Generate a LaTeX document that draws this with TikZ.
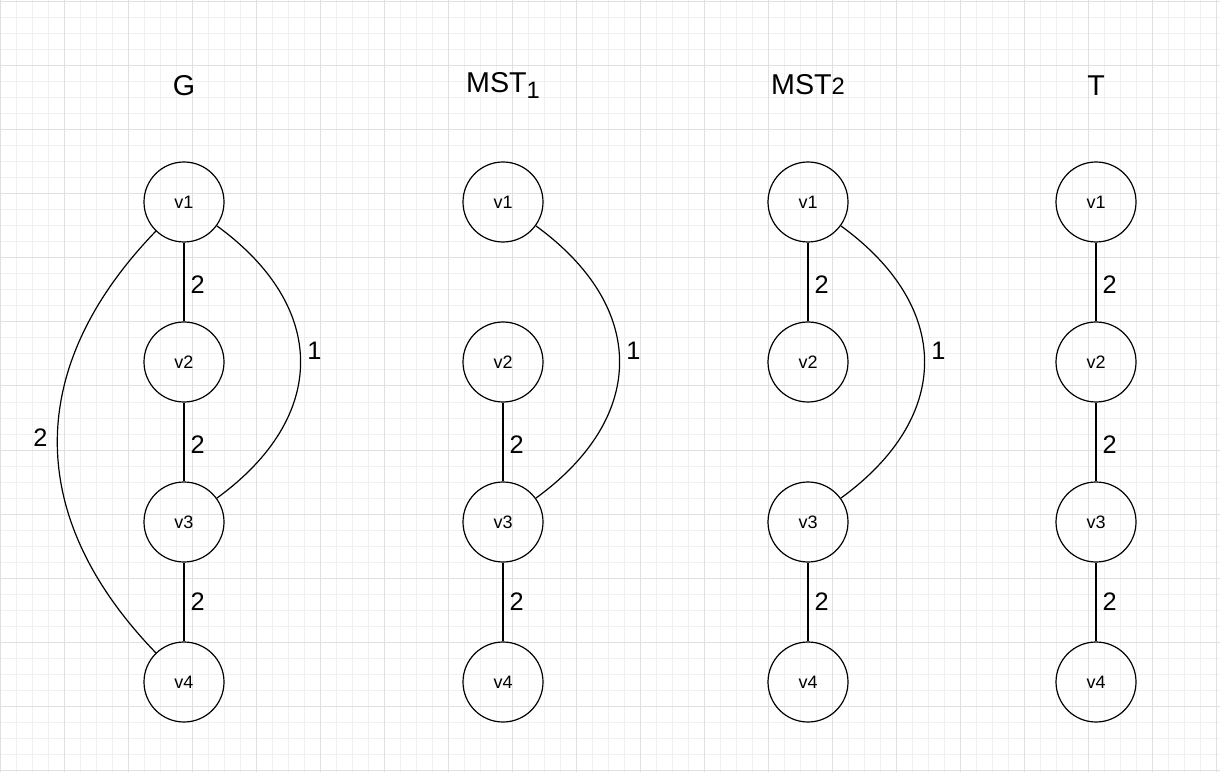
\documentclass[tikz,border=0pt]{standalone}
\usepackage{fontspec}
\setmainfont{Liberation Sans}
\definecolor{gridminor}{HTML}{F0F0F0}
\definecolor{gridmajor}{HTML}{E0E0E0}
\tikzset{
  link/.style={line width=0.9pt},
  elabel/.style={inner sep=0pt,font=\fontsize{19pt}{21pt}\selectfont},
  title/.style={anchor=base,inner sep=0pt,font=\fontsize{21.5pt}{24pt}\selectfont}
}
\begin{document}
\begin{tikzpicture}[x=0.75pt,y=0.75pt]
\useasboundingbox (0,0) rectangle (1220,772);

% grid
\foreach \i in {0,...,76} \draw [gridminor,line width=0.75pt] (16*\i,0) -- (16*\i,772);
\foreach \j in {0,...,48} \draw [gridminor,line width=0.75pt] (0,2+16*\j) -- (1220,2+16*\j);
\foreach \i in {0,...,19} \draw [gridmajor,line width=0.75pt] (64*\i,0) -- (64*\i,772);
\foreach \j in {0,...,12} \draw [gridmajor,line width=0.75pt] (0,2+64*\j) -- (1220,2+64*\j);

\node [title] (tg) at (184,676) {G};
\node [title] (tm1) at (503,679) {MST\raisebox{-4.3pt}{\fontsize{17.8pt}{20pt}\selectfont 1}};
\node [title] (tm2) at (808,677) {MST{\fontsize{17.8pt}{20pt}\selectfont 2}};
\node [title] (tt) at (1096,676) {T};

\begin{scope}[every node/.style={circle,draw,line width=0.9pt,minimum size=60pt,inner sep=0pt,font=\fontsize{13.5pt}{15pt}\selectfont}]
    \node (g1) at (184,570) {v1};
    \node (g2) at (184,410) {v2};
    \node (g3) at (184,250) {v3};
    \node (g4) at (184,90) {v4};

    \node (ma1) at (503,570) {v1};
    \node (ma2) at (503,410) {v2};
    \node (ma3) at (503,250) {v3};
    \node (ma4) at (503,90) {v4};

    \node (mb1) at (808,570) {v1};
    \node (mb2) at (808,410) {v2};
    \node (mb3) at (808,250) {v3};
    \node (mb4) at (808,90) {v4};

    \node (t1) at (1096,570) {v1};
    \node (t2) at (1096,410) {v2};
    \node (t3) at (1096,250) {v3};
    \node (t4) at (1096,90) {v4};
\end{scope}

% G
\path [link] (g1) edge node [elabel,pos=0.54,right=4.5pt] {2} (g2);
\path [link] (g2) edge node [elabel,pos=0.54,right=4.5pt] {2} (g3);
\path [link] (g3) edge node [elabel,right=4.5pt] {2} (g4);
\draw [link] (g1) to [out=-36,in=36,looseness=1.3] node [elabel,pos=0.46,right=5pt] {1} (g3);
\draw [link] (g1) to [out=-134,in=134,looseness=1.15] node [elabel,pos=0.49,left=7pt] {2} (g4);

% MST1
\path [link] (ma2) edge node [elabel,pos=0.54,right=4.5pt] {2} (ma3);
\path [link] (ma3) edge node [elabel,right=4.5pt] {2} (ma4);
\draw [link] (ma1) to [out=-36,in=36,looseness=1.3] node [elabel,pos=0.46,right=5pt] {1} (ma3);

% MST2
\path [link] (mb1) edge node [elabel,pos=0.54,right=4.5pt] {2} (mb2);
\path [link] (mb3) edge node [elabel,right=4.5pt] {2} (mb4);
\draw [link] (mb1) to [out=-36,in=36,looseness=1.3] node [elabel,pos=0.46,right=5pt] {1} (mb3);

% T
\path [link] (t1) edge node [elabel,pos=0.54,right=4.5pt] {2} (t2);
\path [link] (t2) edge node [elabel,pos=0.54,right=4.5pt] {2} (t3);
\path [link] (t3) edge node [elabel,right=4.5pt] {2} (t4);

\end{tikzpicture}
\end{document}
